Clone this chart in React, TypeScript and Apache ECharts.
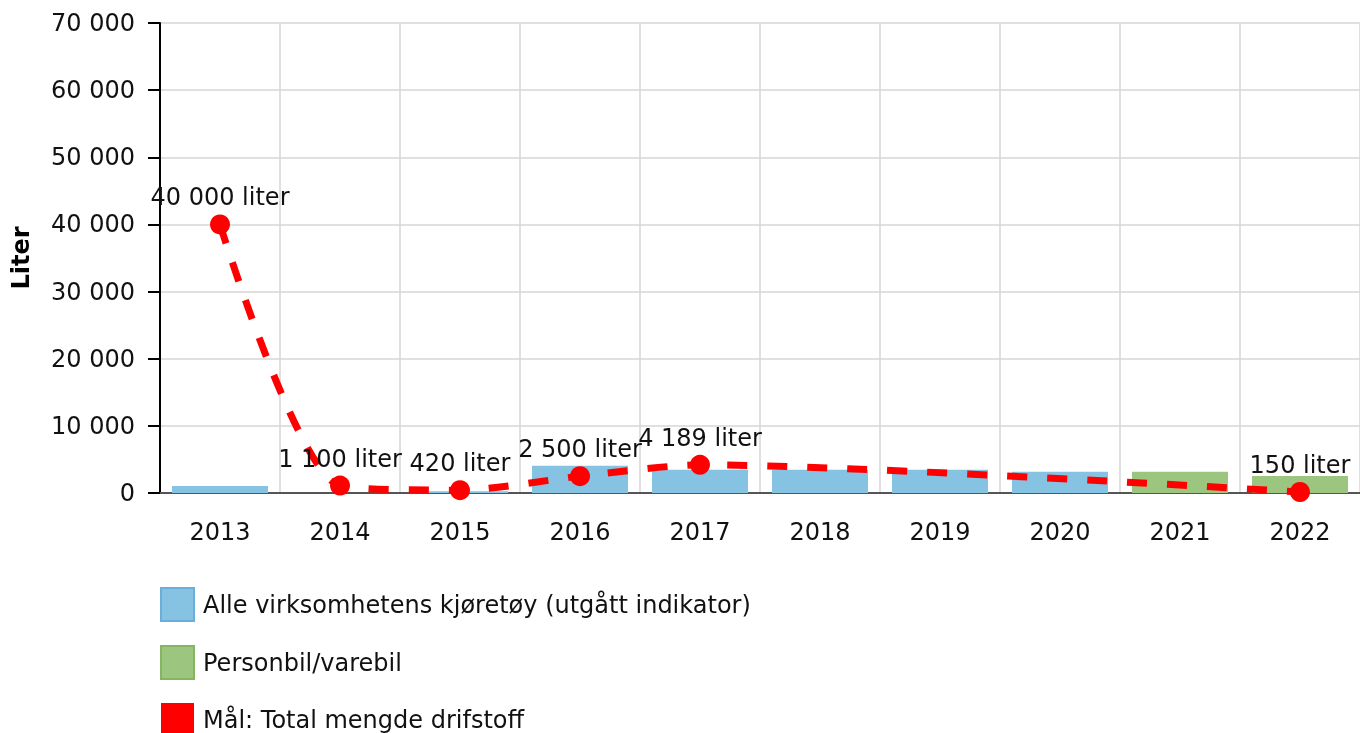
import React, { useEffect, useRef } from "react";
import * as echarts from "echarts";

const years = ["2013", "2014", "2015", "2016", "2017", "2018", "2019", "2020", "2021", "2022"];
const allVehicles = [1050, null, 250, 4050, 3450, 3450, 3450, 3150, null, null];
const carVan = [null, null, null, null, null, null, null, null, 3150, 2550];
const target = [40000, 1100, 420, 2500, 4189, null, null, null, null, 150];
const seriesNames = [
  "Alle virksomhetens kjøretøy (utgått indikator)",
  "Personbil/varebil",
  "Mål: Total mengde drifstoff",
];

const fmt = (v: number) => String(Math.round(v)).replace(/\B(?=(\d{3})+(?!\d))/g, " ");

const FONT = "DejaVu Sans, Verdana, sans-serif";
const FS = 24;

export default function App() {
  const ref = useRef<HTMLDivElement>(null);
  useEffect(() => {
    document.body.style.overflow = "hidden";
    const chart = echarts.init(ref.current!, null, { renderer: "svg" });
    chart.setOption({
      animation: false,
      textStyle: { fontFamily: FONT },
      grid: { left: 160, top: 23, width: 1207, height: 470 },
      legend: {
        orient: "vertical",
        left: 155,
        top: 582,
        icon: "rect",
        itemWidth: 33,
        itemHeight: 33,
        itemGap: 23,
        textStyle: { fontSize: FS, color: "#111", fontFamily: FONT, padding: [0, 0, 0, 4] },
        data: [
          { name: seriesNames[0], itemStyle: { color: "#86C2E2", borderColor: "#6AAFDA", borderWidth: 2 } },
          { name: seriesNames[1], itemStyle: { color: "#9CC57F", borderColor: "#84B662", borderWidth: 2 } },
          { name: seriesNames[2], itemStyle: { color: "#FF0000", borderWidth: 0 } },
        ],
      },
      xAxis: {
        type: "category",
        data: years,
        axisLine: { lineStyle: { color: "#555", width: 2 } },
        axisTick: { alignWithLabel: true, length: 10, lineStyle: { color: "#999", width: 2 } },
        axisLabel: { fontSize: FS, color: "#111", margin: 27, fontFamily: FONT },
        splitLine: { show: true, lineStyle: { color: "#d6d6d6", width: 1.5 } },
      },
      yAxis: {
        type: "value",
        min: 0,
        max: 70000,
        interval: 10000,
        name: "Liter",
        nameLocation: "middle",
        nameGap: 127,
        nameTextStyle: { fontSize: FS, fontWeight: "bold", color: "#000", fontFamily: FONT },
        axisLine: { show: true, lineStyle: { color: "#000", width: 2 } },
        axisTick: { show: true, length: 12, lineStyle: { color: "#000", width: 2 } },
        axisLabel: { fontSize: FS, color: "#111", margin: 25, fontFamily: FONT, formatter: (v: number) => fmt(v) },
        splitLine: { show: true, lineStyle: { color: "#d6d6d6", width: 1.5 } },
      },
      series: [
        {
          name: seriesNames[0],
          type: "bar",
          stack: "s",
          data: allVehicles,
          barWidth: 96,
          itemStyle: { color: "#86C2E2" },
          z: 2,
        },
        {
          name: seriesNames[1],
          type: "bar",
          stack: "s",
          data: carVan,
          barWidth: 96,
          itemStyle: { color: "#9CC57F" },
          z: 2,
        },
        {
          name: seriesNames[2],
          type: "line",
          data: target,
          connectNulls: true,
          smooth: 0.25,
          symbol: "circle",
          symbolSize: 20,
          itemStyle: { color: "#FF0000" },
          lineStyle: { color: "#FF0000", width: 7, type: [20, 20] },
          label: {
            show: true,
            position: "top",
            distance: 5,
            fontSize: FS,
            color: "#111",
            fontFamily: FONT,
            formatter: (p: any) => fmt(p.value) + " liter",
          },
          z: 5,
        },
      ],
    });
    return () => chart.dispose();
  }, []);
  return <div ref={ref} style={{ position: "fixed", left: 0, top: 0, width: 1360, height: 790 }} />;
}
